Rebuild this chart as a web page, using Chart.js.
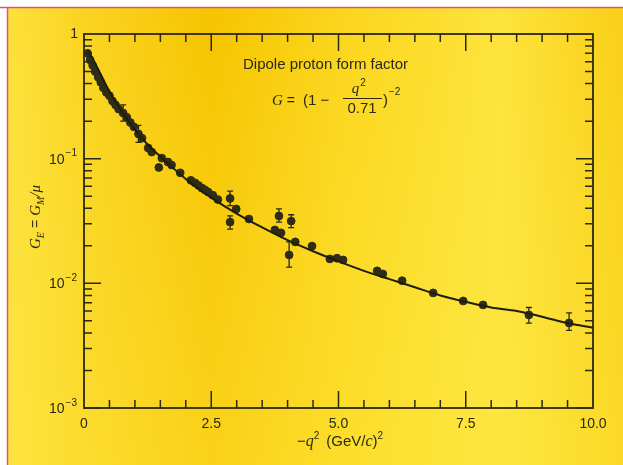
<!DOCTYPE html>
<html>
<head>
<meta charset="utf-8">
<script src="https://cdn.jsdelivr.net/npm/chart.js@4.4.1/dist/chart.umd.min.js"></script>
<style>
  html, body { margin: 0; padding: 0; background: #fff; }
  #wrap { width: 623px; height: 465px; }
</style>
</head>
<body>
<div id="wrap"><canvas id="chart" width="623" height="465"></canvas></div>
<script>
// Values: x = -q^2 in (GeV/c)^2, y = G_E = G_M/mu
const pointQ2 = [0.07, 0.12, 0.17, 0.22, 0.28, 0.33, 0.38, 0.44, 0.50, 0.56, 0.62, 0.68,
    0.77, 0.84, 0.91, 0.98, 1.07, 1.14, 1.26, 1.33, 1.47, 1.53, 1.65, 1.72, 1.89, 2.10,
    2.18, 2.25, 2.32, 2.38, 2.44, 2.53, 2.63, 2.87, 2.87, 2.99, 3.24, 3.75, 3.83, 3.87,
    4.03, 4.07, 4.15, 4.48, 4.83, 4.97, 5.09, 5.76, 5.87, 6.25, 6.86, 7.45, 7.84, 8.74, 9.53];
const pointG = [0.70, 0.62, 0.56, 0.50, 0.45, 0.41, 0.37, 0.34, 0.32, 0.29, 0.27, 0.25,
    0.232, 0.215, 0.195, 0.18, 0.158, 0.146, 0.122, 0.113, 0.085, 0.101, 0.094, 0.089, 0.077, 0.067,
    0.064, 0.061, 0.058, 0.056, 0.054, 0.051, 0.047, 0.048, 0.031, 0.0395, 0.0328, 0.0268, 0.0347, 0.0254,
    0.0169, 0.0316, 0.0215, 0.0199, 0.0157, 0.0159, 0.0154, 0.0126, 0.0119, 0.0105, 0.00838, 0.00722, 0.00671, 0.00558, 0.00481];

// error bars (only the points that show one)
const barQ2 = [0.77, 1.07, 2.87, 2.87, 3.83, 4.07, 4.03, 8.74, 9.53];
const barLow = [0.20, 0.135, 0.042, 0.0272, 0.031, 0.028, 0.0135, 0.0048, 0.0042];
const barHigh = [0.27, 0.185, 0.055, 0.0347, 0.0395, 0.0355, 0.0215, 0.0064, 0.0058];

// dipole curve as drawn in the figure
const curveQ2 = [0.08, 0.25, 0.5, 0.75, 1.0, 1.25, 1.5, 2.0, 2.5, 3.0, 3.5, 4.0, 4.5,
    5.0, 5.5, 6.0, 6.5, 7.0, 7.5, 8.0, 8.5, 9.0, 9.5, 10.0];
const curveG = [0.74, 0.55, 0.345, 0.237, 0.172, 0.13, 0.104, 0.0688, 0.0487, 0.0363, 0.0281, 0.0222, 0.0181,
    0.0150, 0.0126, 0.0108, 0.0093, 0.0080, 0.0071, 0.0064, 0.0060, 0.0054, 0.0048, 0.0044];

const xTickLabels = ['0', '2.5', '5.0', '7.5', '10.0'];
const yDecades = [0, -1, -2, -3];

const ink = '#2b2914';
const sans = '"Liberation Sans", Arial, sans-serif';
const serif = '"Liberation Serif", "Times New Roman", serif';

// draw a row of text pieces, each with its own font and vertical shift
function textRun(ctx, x, y, parts, align) {
    let total = 0;
    parts.forEach(p => { ctx.font = p.f; total += ctx.measureText(p.t).width + (p.gap || 0); });
    let cx = align === 'center' ? x - total / 2 : (align === 'right' ? x - total : x);
    parts.forEach(p => {
        ctx.font = p.f;
        ctx.fillText(p.t, cx, y + (p.dy || 0));
        cx += ctx.measureText(p.t).width + (p.gap || 0);
    });
    return total;
}

const paperPlugin = {
    id: 'paper',
    beforeDraw(chart) {
        const ctx = chart.ctx;
        const w = chart.width, h = chart.height;
        ctx.save();
        ctx.fillStyle = '#ffffff';
        ctx.fillRect(0, 0, w, h);
        const g = ctx.createLinearGradient(8, 0, w, 0);
        g.addColorStop(0, '#fde03a');
        g.addColorStop(0.12, '#fad423');
        g.addColorStop(0.33, '#f6c400');
        g.addColorStop(0.55, '#fbd61e');
        g.addColorStop(0.8, '#fde33c');
        g.addColorStop(1, '#f9cf18');
        ctx.fillStyle = g;
        ctx.fillRect(8, 8, w - 8, h - 8);
        // lighter wash toward the bottom
        const v = ctx.createLinearGradient(0, 8, 0, h);
        v.addColorStop(0, 'rgba(255,240,80,0)');
        v.addColorStop(1, 'rgba(255,236,70,0.35)');
        ctx.fillStyle = v;
        ctx.fillRect(8, 8, w - 8, h - 8);
        ctx.strokeStyle = '#d9567c';
        ctx.lineWidth = 1.5;
        ctx.beginPath();
        ctx.moveTo(0, 7.5); ctx.lineTo(w, 7.5);
        ctx.moveTo(7.5, 7.5); ctx.lineTo(7.5, h);
        ctx.stroke();
        ctx.restore();
    }
};

const framePlugin = {
    id: 'frame',
    afterDatasetsDraw(chart) {
        const ctx = chart.ctx;
        const a = chart.chartArea;
        const xs = chart.scales.x, ys = chart.scales.y;
        ctx.save();
        ctx.strokeStyle = ink;
        ctx.fillStyle = ink;

        // error bars
        ctx.lineWidth = 1.3;
        barQ2.forEach((q, i) => {
            const px = xs.getPixelForValue(q);
            const lo = ys.getPixelForValue(barLow[i]);
            const hi = ys.getPixelForValue(barHigh[i]);
            ctx.beginPath();
            ctx.moveTo(px, lo); ctx.lineTo(px, hi);
            ctx.moveTo(px - 3, lo); ctx.lineTo(px + 3, lo);
            ctx.moveTo(px - 3, hi); ctx.lineTo(px + 3, hi);
            ctx.stroke();
        });

        // frame
        ctx.lineWidth = 1.8;
        ctx.strokeRect(a.left, a.top, a.right - a.left, a.bottom - a.top);

        // inward ticks, x
        ctx.lineWidth = 1.5;
        ctx.beginPath();
        for (let i = 1; i < 20; i++) {
            const px = xs.getPixelForValue(i * 0.5);
            const len = i % 5 === 0 ? 17 : 8;
            ctx.moveTo(px, a.bottom); ctx.lineTo(px, a.bottom - len);
            ctx.moveTo(px, a.top); ctx.lineTo(px, a.top + len);
        }
        // inward ticks, y (log)
        for (let e = -3; e < 0; e++) {
            for (let m = 1; m < 10; m++) {
                const py = ys.getPixelForValue(m * Math.pow(10, e));
                const len = m === 1 ? 17 : 8;
                ctx.moveTo(a.left, py); ctx.lineTo(a.left + len, py);
                ctx.moveTo(a.right, py); ctx.lineTo(a.right - len, py);
            }
        }
        ctx.stroke();

        // y tick labels 1, 10^-1 ...
        ctx.textBaseline = 'middle';
        yDecades.forEach(e => {
            const py = ys.getPixelForValue(Math.pow(10, e));
            if (e === 0) {
                ctx.font = '14px ' + sans;
                ctx.textAlign = 'right';
                ctx.fillText('1', 78, py);
            } else {
                ctx.textAlign = 'left';
                textRun(ctx, 77, py + 1, [
                    { t: '10', f: '14px ' + sans, gap: 1 },
                    { t: '\u2212' + (-e), f: '10px ' + sans, dy: -6 }
                ], 'right');
            }
        });

        // annotation
        ctx.textAlign = 'left';
        ctx.textBaseline = 'alphabetic';
        ctx.font = '15px ' + sans;
        ctx.fillText('Dipole proton form factor', 243, 69);

        textRun(ctx, 272, 105, [
            { t: 'G', f: 'italic 15px ' + serif, gap: 4 },
            { t: '=', f: '14px ' + sans, gap: 8 },
            { t: '(1 \u2212', f: '15px ' + sans }
        ], 'left');
        ctx.textAlign = 'center';
        textRun(ctx, 362, 93, [
            { t: 'q', f: 'italic 15px ' + serif },
            { t: '2', f: '10px ' + sans, dy: -7 }
        ], 'center');
        ctx.font = '15px ' + sans;
        ctx.fillText('0.71', 362, 113);
        ctx.lineWidth = 1.2;
        ctx.beginPath();
        ctx.moveTo(343, 98.5); ctx.lineTo(382, 98.5);
        ctx.stroke();
        ctx.textAlign = 'left';
        textRun(ctx, 383, 105, [
            { t: ')', f: '15px ' + sans, gap: 1 },
            { t: '\u22122', f: '10px ' + sans, dy: -10 }
        ], 'left');

        // x axis title
        textRun(ctx, 340, 446, [
            { t: '\u2212', f: '15px ' + sans },
            { t: 'q', f: 'italic 16px ' + serif },
            { t: '2', f: '10px ' + sans, dy: -7, gap: 7 },
            { t: '(GeV/', f: '15px ' + sans },
            { t: 'c', f: 'italic 16px ' + serif },
            { t: ')', f: '15px ' + sans },
            { t: '2', f: '10px ' + sans, dy: -7 }
        ], 'center');

        // y axis title, rotated
        ctx.translate(40, 217);
        ctx.rotate(-Math.PI / 2);
        textRun(ctx, 0, 0, [
            { t: 'G', f: 'italic 15px ' + serif },
            { t: 'E', f: 'italic 10px ' + serif, dy: 4, gap: 4 },
            { t: '=', f: '14px ' + sans, gap: 4 },
            { t: 'G', f: 'italic 15px ' + serif },
            { t: 'M', f: 'italic 10px ' + serif, dy: 4 },
            { t: '/\u03bc', f: 'italic 15px ' + serif }
        ], 'center');
        ctx.restore();
    }
};

const ctx = document.getElementById('chart').getContext('2d');
new Chart(ctx, {
    type: 'scatter',
    data: {
        datasets: [{
            label: 'dipole',
            data: curveQ2.map((q, i) => ({ x: q, y: curveG[i] })),
            showLine: true,
            borderColor: '#1f1d0c',
            borderWidth: 2,
            pointRadius: 0,
            cubicInterpolationMode: 'monotone'
        }, {
            label: 'data',
            data: pointQ2.map((q, i) => ({ x: q, y: pointG[i] })),
            pointRadius: 3.9,
            backgroundColor: '#2f2d16',
            borderColor: '#2f2d16',
            borderWidth: 1
        }]
    },
    options: {
        responsive: false,
        devicePixelRatio: 1,
        animation: false,
        layout: { padding: { left: 0, top: 34, right: 30, bottom: 0 } },
        plugins: { legend: { display: false }, tooltip: { enabled: false } },
        scales: {
            x: {
                type: 'linear',
                min: 0,
                max: 10,
                grid: { display: false, drawTicks: false },
                border: { display: false },
                ticks: {
                    stepSize: 2.5,
                    padding: 8,
                    color: ink,
                    font: { family: sans, size: 14 },
                    callback: (v, i) => xTickLabels[i]
                },
                afterFit: s => { s.height = 57; }
            },
            y: {
                type: 'logarithmic',
                min: 0.001,
                max: 1,
                grid: { display: false, drawTicks: false },
                border: { display: false },
                ticks: { display: false },
                afterFit: s => { s.width = 84; }
            }
        }
    },
    plugins: [paperPlugin, framePlugin]
});
</script>
</body>
</html>
